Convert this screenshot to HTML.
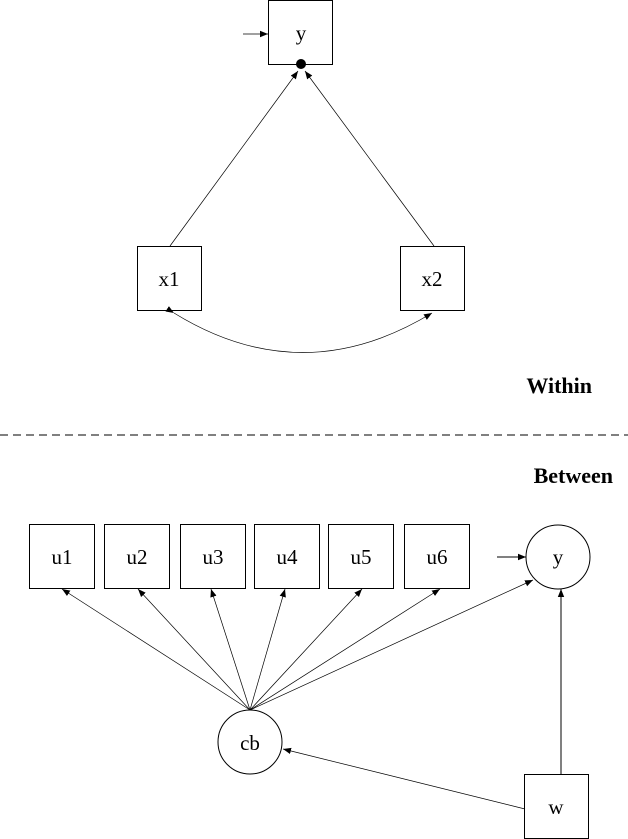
<!DOCTYPE html>
<html><head><meta charset="utf-8"><style>
html,body{margin:0;padding:0;background:#fff;}
svg{display:block;}
text{font-family:"Liberation Serif",serif;fill:#000;}
</style></head><body>
<svg width="628" height="839" viewBox="0 0 628 839" xmlns="http://www.w3.org/2000/svg">
<defs>
<marker id="a" viewBox="0 0 10 10" refX="10" refY="5" markerWidth="8" markerHeight="8" markerUnits="userSpaceOnUse" orient="auto">
<path d="M0,1 L10,5 L0,9 z" fill="#000"/></marker>
</defs>
<g fill="none" stroke="#000" stroke-width="1">
<rect x="268.5" y="0.5" width="64" height="64"/>
<rect x="137.5" y="246.5" width="64" height="64"/>
<rect x="400.5" y="246.5" width="64" height="64"/>
<line x1="243" y1="34" x2="268" y2="34" stroke-width="0.8" marker-end="url(#a)"/>
<line x1="170" y1="246" x2="298" y2="71" stroke-width="0.7" marker-end="url(#a)"/>
<line x1="434" y1="246" x2="305" y2="71" stroke-width="0.7" marker-end="url(#a)"/>
<path d="M174,313 Q302,392 432,313" stroke-width="0.7" marker-start="url(#a)" marker-end="url(#a)"/>
<line x1="0" y1="435" x2="628" y2="435" stroke-dasharray="8,5"/>
<rect x="29.5" y="524.5" width="65" height="64"/>
<rect x="104.5" y="524.5" width="65" height="64"/>
<rect x="180.5" y="524.5" width="65" height="64"/>
<rect x="254.5" y="524.5" width="65" height="64"/>
<rect x="328.5" y="524.5" width="65" height="64"/>
<rect x="404.5" y="524.5" width="65" height="64"/>
<ellipse cx="558" cy="557" rx="32" ry="32"/>
<ellipse cx="250" cy="742" rx="32" ry="32"/>
<rect x="524.5" y="774.5" width="64" height="64"/>
<line x1="497" y1="557" x2="526" y2="557" marker-end="url(#a)"/>
<g stroke-width="0.7">
<line x1="250" y1="710" x2="62" y2="589" marker-end="url(#a)"/>
<line x1="250" y1="710" x2="138" y2="589" marker-end="url(#a)"/>
<line x1="250" y1="710" x2="211" y2="589" marker-end="url(#a)"/>
<line x1="250" y1="710" x2="285" y2="589" marker-end="url(#a)"/>
<line x1="250" y1="710" x2="362" y2="589" marker-end="url(#a)"/>
<line x1="250" y1="710" x2="440" y2="589" marker-end="url(#a)"/>
<line x1="250" y1="710" x2="533" y2="580" marker-end="url(#a)"/>
<line x1="525" y1="809" x2="283" y2="749" marker-end="url(#a)"/>
</g>
<line x1="561" y1="774" x2="561" y2="589" marker-end="url(#a)"/>
</g>
<circle cx="301" cy="64" r="5" fill="#000"/>
<g font-size="21" text-anchor="middle">
<text x="301" y="40">y</text>
<text x="169" y="286">x1</text>
<text x="432" y="286">x2</text>
<text x="62" y="564">u1</text>
<text x="137" y="564">u2</text>
<text x="213" y="564">u3</text>
<text x="287" y="564">u4</text>
<text x="361" y="564">u5</text>
<text x="437" y="564">u6</text>
<text x="558" y="564">y</text>
<text x="250" y="750">cb</text>
<text x="556" y="814">w</text>
</g>
<text x="592" y="393" font-size="22" font-weight="bold" text-anchor="end">Within</text>
<text x="613" y="483" font-size="22" font-weight="bold" text-anchor="end">Between</text>
</svg>
</body></html>
